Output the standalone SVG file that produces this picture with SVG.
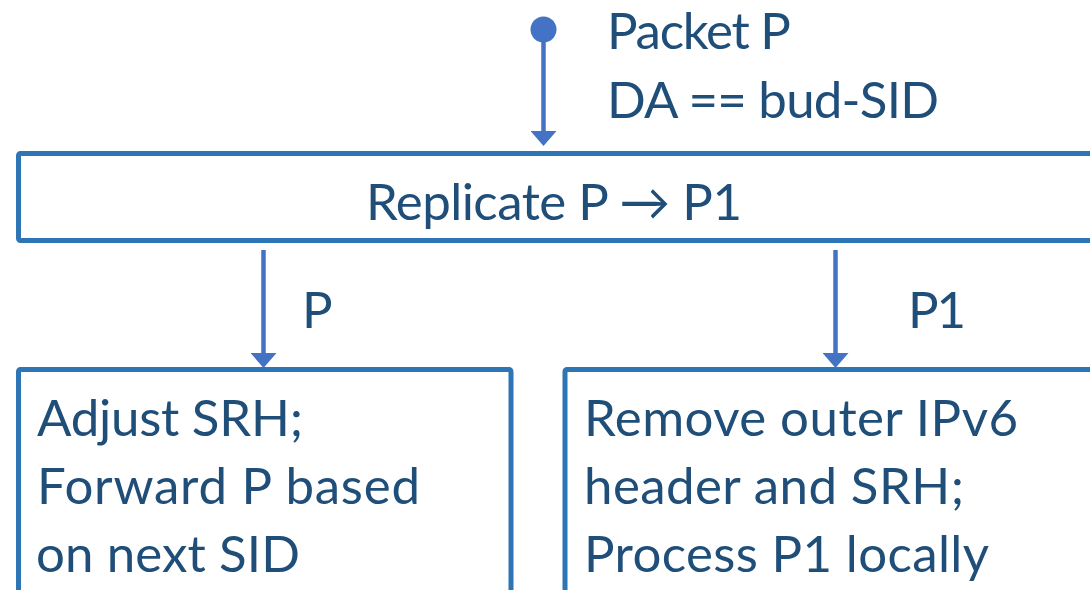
<svg xmlns="http://www.w3.org/2000/svg" width="1090" height="590" viewBox="0 0 1090 590">
  <style>
    .box { fill: #ffffff; stroke: #2e75b6; stroke-width: 5; stroke-linejoin: round; }
    .conn { stroke: #4472c4; stroke-width: 4.5; fill: none; }
    .lbl { font-family: Lato, "Open Sans", "Liberation Sans", sans-serif; font-size: 51px; fill: #1f4e79; }
  </style>
  <defs>
    <marker id="arrow" markerUnits="userSpaceOnUse" markerWidth="15" markerHeight="26" viewBox="0 0 15 26" refX="0" refY="13" orient="auto">
      <path d="M0,0 L15,13 L0,26 Z" fill="#4472c4"/>
    </marker>
  </defs>
  <rect width="1090" height="590" fill="#ffffff"/>

  <g id="node-replicate">
    <rect class="box" x="18.5" y="153.5" width="1100" height="87" rx="2"/>
    <text class="lbl" x="366" y="220" textLength="376" lengthAdjust="spacing">Replicate P → P1</text>
  </g>

  <g id="node-forward">
    <rect class="box" x="18.5" y="369.5" width="492.5" height="260" rx="2"/>
    <text class="lbl" x="37" y="436" textLength="266" lengthAdjust="spacing">Adjust SRH;</text>
    <text class="lbl" x="37" y="503.5" textLength="383" lengthAdjust="spacing">Forward P based</text>
    <text class="lbl" x="36" y="571.5" textLength="264" lengthAdjust="spacing">on next SID</text>
  </g>

  <g id="node-local">
    <rect class="box" x="565" y="369.5" width="560" height="260" rx="2"/>
    <text class="lbl" x="584" y="436" textLength="434" lengthAdjust="spacing">Remove outer IPv6</text>
    <text class="lbl" x="584" y="503.5" textLength="380" lengthAdjust="spacing">header and SRH;</text>
    <text class="lbl" x="584" y="571.5" textLength="405" lengthAdjust="spacing">Process P1 locally</text>
  </g>

  <g id="connectors">
    <circle cx="543.5" cy="29.5" r="13" fill="#4472c4"/>
    <line class="conn" x1="543.5" y1="30" x2="543.5" y2="131" marker-end="url(#arrow)"/>
    <text class="lbl" x="607" y="49" textLength="184" lengthAdjust="spacing">Packet P</text>
    <text class="lbl" x="607" y="118" textLength="332" lengthAdjust="spacing">DA == bud-SID</text>

    <line class="conn" x1="263.5" y1="250" x2="263.5" y2="353" marker-end="url(#arrow)"/>
    <text class="lbl" x="302" y="328">P</text>

    <line class="conn" x1="835.5" y1="250" x2="835.5" y2="353" marker-end="url(#arrow)"/>
    <text class="lbl" x="908" y="328" textLength="58" lengthAdjust="spacing">P1</text>
  </g>
</svg>
